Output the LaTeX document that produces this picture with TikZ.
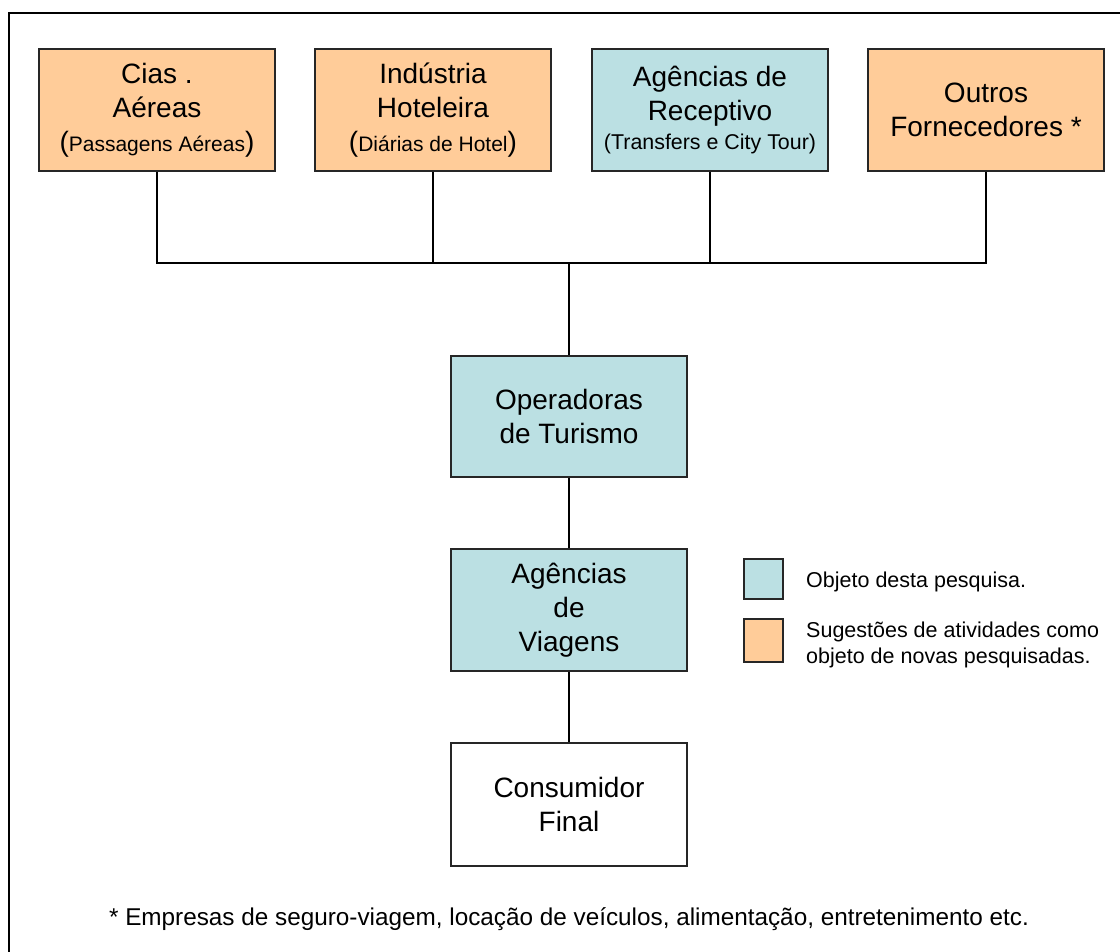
\documentclass[tikz,border=0pt]{standalone}
\usepackage{fontspec}
\setmainfont{Liberation Sans}
\newcommand\bigtxt{\fontsize{28}{34}\selectfont}
\newcommand\smalltxt{\fontsize{21}{25}\selectfont}
\newcommand\legtxt{\fontsize{21.5}{26}\selectfont}
\newcommand\notetxt{\fontsize{24.3}{29}\selectfont}
\definecolor{supplier}{RGB}{255,204,153}
\definecolor{studied}{RGB}{187,224,227}
\tikzset{
  box/.style={draw=black!85, line width=1.5pt, minimum width=236pt, minimum height=122pt,
    inner sep=0pt, align=center, font=\bigtxt},
  swatch/.style={draw=black!85, line width=1.5pt, minimum width=39pt, inner sep=0pt},
  link/.style={draw=black, line width=1.4pt},
  trunk/.style={draw=black, line width=2.2pt},
  legend/.style={anchor=base west, inner sep=0pt, font=\legtxt},
}
\begin{document}
\begin{tikzpicture}[x=1pt,y=-1pt]
\useasboundingbox (0,0) rectangle (1120,952);
\clip (0,0) rectangle (1120,952);
% outer frame, running past the right and bottom edges
\draw[line width=2.2pt] (9,13) rectangle (1140,980);

% suppliers
\node[box, fill=supplier] (cias) at (157,110)
  {Cias .\\Aéreas\\(\smalltxt Passagens Aéreas\bigtxt)};
\node[box, fill=supplier] (hotel) at (433,110)
  {Indústria\\Hoteleira\\(\smalltxt Diárias de Hotel\bigtxt)};
\node[box, fill=studied] (recep) at (710,110)
  {Agências de\\Receptivo\\[-5pt]{\fontsize{21.4}{25}\selectfont(Transfers e City Tour)}};
\node[box, fill=supplier] (outros) at (986,110)
  {Outros\\Fornecedores *};

% distribution chain
\node[box, fill=studied, minimum height=121pt] (oper) at (569,416.5)
  {Operadoras\\de Turismo};
\node[box, fill=studied] (agv) at (569,610)
  {Agências\\de\\Viagens};
\node[box, fill=white, minimum height=123pt] (cons) at (569,804.5)
  {Consumidor\\Final};

% connectors
\coordinate (bus) at (569,263);
\draw[link] (cias.south) |- (bus);
\draw[link] (hotel.south) |- (bus);
\draw[link] (recep.south) |- (bus);
\draw[link] (outros.south) |- (bus);
\draw[trunk] (bus) -- (oper.north);
\draw[link] (oper.south) -- (agv.north);
\draw[link] (agv.south) -- (cons.north);

% legend
\node[swatch, fill=studied, minimum height=40pt] (key1) at (763.5,579) {};
\node[swatch, fill=supplier, minimum height=43pt] (key2) at (763.5,640.5) {};
\node[legend] (keytext1) at (806,587) {Objeto desta pesquisa.};
\node[legend] (keytext2a) at (806,637) {Sugestões de atividades como};
\node[legend] (keytext2b) at (806,663) {objeto de novas pesquisadas.};

% footnote
\node[anchor=base, inner sep=0pt, font=\notetxt] (note) at (569,925)
  {* Empresas de seguro-viagem, locação de veículos, alimentação, entretenimento etc.};
\end{tikzpicture}
\end{document}
